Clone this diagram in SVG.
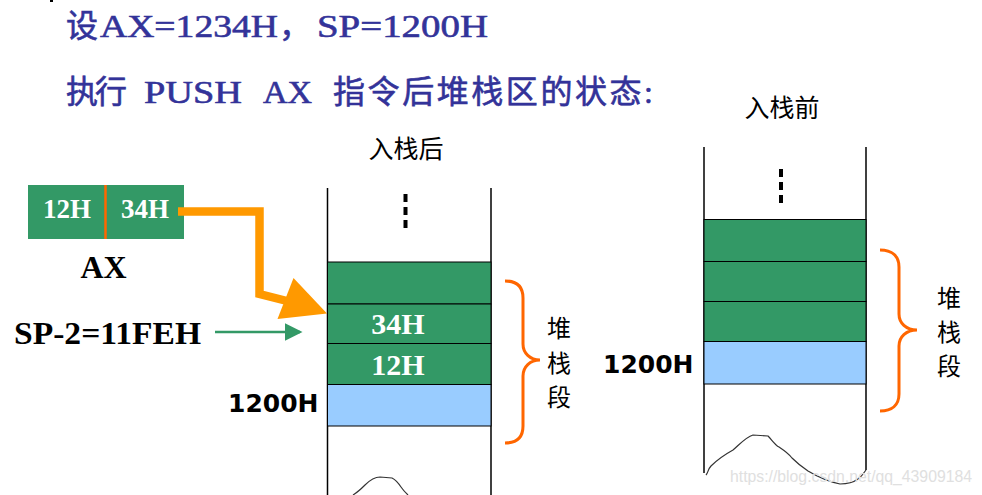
<svg xmlns="http://www.w3.org/2000/svg" width="982" height="495" viewBox="0 0 982 495">
<style>
.title{font-family:"Liberation Serif","Noto Sans CJK SC",serif;font-size:32px;fill:#333399;stroke:#333399;stroke-width:0.6}
.cjk{font-family:"Noto Sans CJK SC",sans-serif;fill:#000}
.bw{font-family:"Liberation Serif","Noto Sans CJK SC",serif;font-weight:bold;fill:#fff;text-anchor:middle}
.bb{font-family:"Liberation Serif",serif;font-weight:bold;fill:#000}
.addr{font-family:"DejaVu Sans",sans-serif;font-weight:bold;font-size:25px;fill:#000}
.g{fill:#339966;stroke:#000;stroke-width:1}
.b{fill:#99CCFF;stroke:#000;stroke-width:1}
.wall{stroke:#000;stroke-width:1.5;fill:none}
.dots{stroke:#000;stroke-width:4;stroke-dasharray:8,5}
.brace{fill:none;stroke:#FF6600;stroke-width:3}
.wave{fill:none;stroke:#333;stroke-width:1.2}
</style>
<defs>
<marker id="ga" markerWidth="8" markerHeight="8" refX="6" refY="3.5" orient="auto" markerUnits="strokeWidth">
<path d="M0,0 L7,3.5 L0,7 z" fill="#339966"/>
</marker>
</defs>
<rect x="0" y="0" width="982" height="495" fill="#fff"/>
<rect x="50" y="0" width="3" height="2" fill="#000"/>

<g id="title">
<text class="title" x="66" y="37">设</text>
<text class="title" x="100" y="37" textLength="178" lengthAdjust="spacingAndGlyphs">AX=1234H</text>
<text class="title" x="279" y="37">，</text>
<text class="title" x="317" y="37" textLength="171" lengthAdjust="spacingAndGlyphs">SP=1200H</text>
<text class="title" x="66" y="103" textLength="61" lengthAdjust="spacing">执行</text>
<text class="title" x="144" y="103" textLength="98" lengthAdjust="spacingAndGlyphs">PUSH</text>
<text class="title" x="263" y="103" textLength="49" lengthAdjust="spacingAndGlyphs">AX</text>
<text class="title" x="333" y="103" textLength="320" lengthAdjust="spacing">指令后堆栈区的状态:</text>
</g>

<g id="ax-register">
<rect x="28" y="185" width="156" height="54" fill="#339966"/>
<line x1="105.5" y1="185" x2="105.5" y2="239" stroke="#FF6600" stroke-width="2.5"/>
<text class="bw" x="67" y="218" font-size="27">12H</text>
<text class="bw" x="145" y="218" font-size="27">34H</text>
<text class="bb" x="103.5" y="278" font-size="32" text-anchor="middle">AX</text>
</g>

<g id="sp-label">
<text class="bb" x="14" y="344" font-size="32" textLength="187" lengthAdjust="spacingAndGlyphs">SP-2=11FEH</text>
</g>

<g id="stack-after">
<text class="cjk" x="406" y="158" font-size="25" text-anchor="middle">入栈后</text>
<line class="wall" x1="327.5" y1="188" x2="327.5" y2="495"/>
<line class="wall" x1="491" y1="188" x2="491" y2="495"/>
<line class="dots" x1="405.5" y1="194" x2="405.5" y2="228"/>
<rect class="g" x="327.5" y="262" width="163.5" height="42"/>
<rect class="g" x="327.5" y="304" width="163.5" height="39.5"/>
<rect class="g" x="327.5" y="343.5" width="163.5" height="41"/>
<rect class="b" x="327.5" y="384.5" width="163.5" height="41.5"/>
<text class="bw" x="398" y="334" font-size="30">34H</text>
<text class="bw" x="398" y="375" font-size="30">12H</text>
<text class="addr" x="228" y="412">1200H</text>
<path class="brace" d="M505,281 C517,281 523,287 523,298 L523,344 C523,353 530,360 540,360 C530,360 523,367 523,376 L523,426 C523,437 517,443 505,443"/>
<text class="cjk" x="559" y="337" font-size="24" text-anchor="middle">堆</text>
<text class="cjk" x="559" y="372" font-size="24" text-anchor="middle">栈</text>
<text class="cjk" x="559" y="406" font-size="24" text-anchor="middle">段</text>
<path class="wave" d="M353,495 C358,492 362,488 365,485 C370,480 374,477 380,477 L392,478 C396,480 399,484 401,487 C403,490 406,493 408,495"/>
</g>

<g id="stack-before">
<text class="cjk" x="782" y="117" font-size="25" text-anchor="middle">入栈前</text>
<line class="wall" x1="704" y1="147" x2="704" y2="473"/>
<line class="wall" x1="866" y1="147" x2="866" y2="470"/>
<line class="dots" x1="781" y1="169" x2="781" y2="203"/>
<rect class="g" x="704" y="219.5" width="162" height="42"/>
<rect class="g" x="704" y="261.5" width="162" height="40"/>
<rect class="g" x="704" y="301.5" width="162" height="40"/>
<rect class="b" x="704" y="341.5" width="162" height="42.5"/>
<text class="addr" x="603" y="373">1200H</text>
<path class="brace" d="M880,250 C892,250 899,256 899,267 L899,314 C899,323 906,330 917,330 C906,330 899,337 899,346 L899,394 C899,405 892,411 880,411"/>
<text class="cjk" x="949" y="307" font-size="24" text-anchor="middle">堆</text>
<text class="cjk" x="949" y="341" font-size="24" text-anchor="middle">栈</text>
<text class="cjk" x="949" y="375" font-size="24" text-anchor="middle">段</text>
<path class="wave" d="M706,475 C708,473 708,469 711,466 C717,460 724,455 733,450 C740,444 746,437 753,435 L768,436 C772,440 775,445 779,447 C785,451 789,454 792,458 C798,464 802,467 808,471 C818,477 830,482 840,484 C848,484 854,482 858,479 C862,476 864,473 866,470"/>
</g>

<g id="connectors">
<polyline points="178,211.5 259.5,211.5 259.5,294 287,301" fill="none" stroke="#FF9900" stroke-width="8.5" stroke-linejoin="miter"/>
<polygon points="293.5,278 277.5,319 327,313.5" fill="#FF9900"/>
<line x1="215" y1="332" x2="300" y2="332" stroke="#339966" stroke-width="2.5" marker-end="url(#ga)"/>
</g>

<text x="730" y="482" font-family="Liberation Sans, sans-serif" font-size="17" fill="#e0e0e0" textLength="242" lengthAdjust="spacingAndGlyphs">https://blog.csdn.net/qq_43909184</text>
</svg>
